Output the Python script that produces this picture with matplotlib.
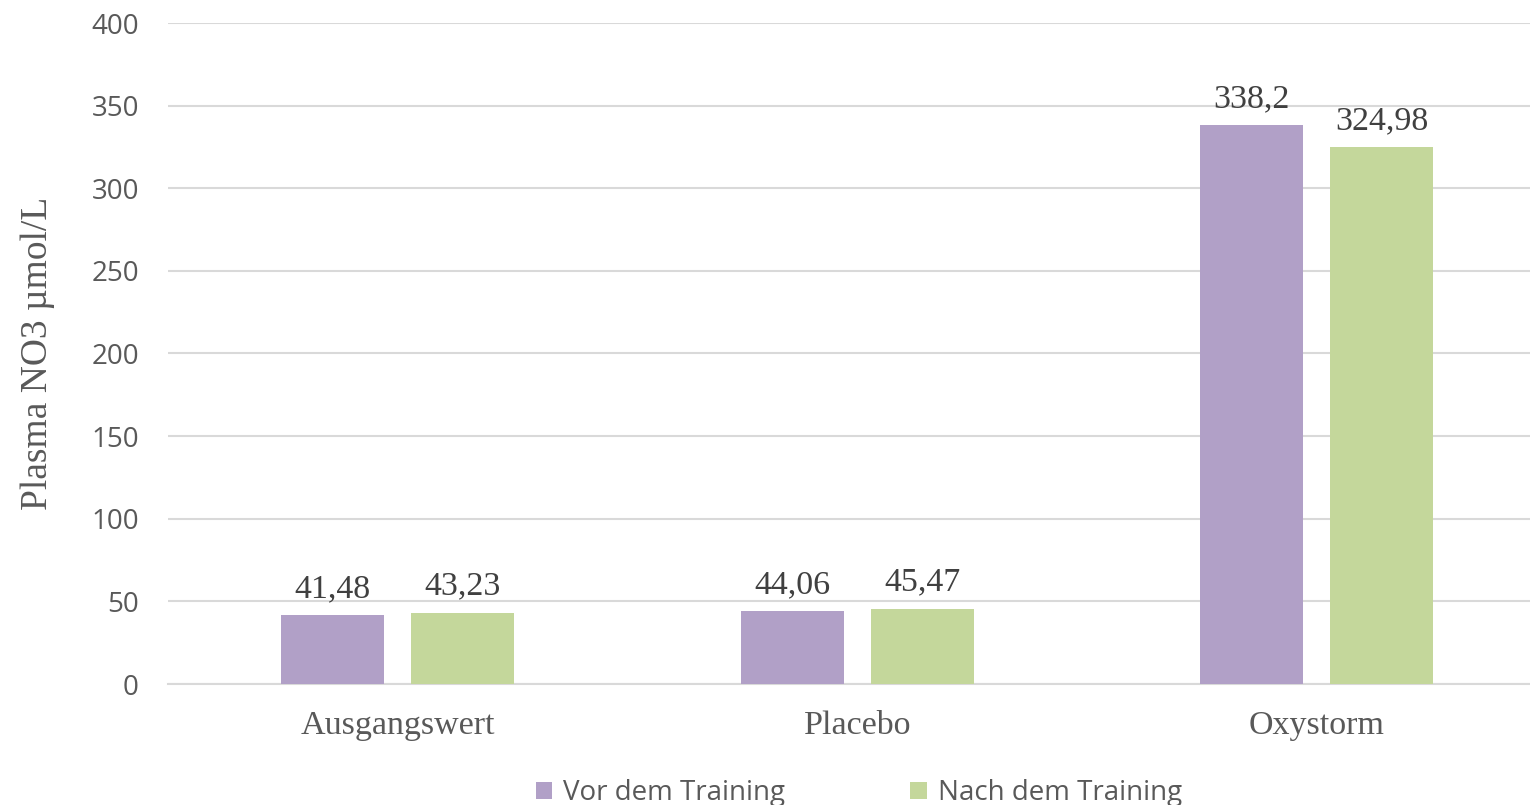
import matplotlib.pyplot as plt
import numpy as np

categories = ["Ausgangswert", "Placebo", "Oxystorm"]
vor = [41.48, 44.06, 338.2]
nach = [43.23, 45.47, 324.98]
vor_labels = ["41,48", "44,06", "338,2"]
nach_labels = ["43,23", "45,47", "324,98"]
series_names = ["Vor dem Training", "Nach dem Training"]

purple = "#B1A0C7"
green = "#C4D79B"
grey = "#595959"
serif = ["Liberation Serif", "DejaVu Serif"]
sans = ["Open Sans", "DejaVu Sans"]

fig = plt.figure(figsize=(15.3, 8.05), dpi=100)
ax = fig.add_axes([168 / 1530, 1 - 684 / 805, 1 - 168 / 1530, (684 - 23) / 805])

x = np.arange(len(categories))
w = 0.224
off = 0.1415
b1 = ax.bar(x - off, vor, w, color=purple, label=series_names[0], zorder=3)
b2 = ax.bar(x + off, nach, w, color=green, label=series_names[1], zorder=3)

# Datenbeschriftungen
for bars, labels in [(b1, vor_labels), (b2, nach_labels)]:
    for rect, lab in zip(bars, labels):
        ax.annotate(lab, (rect.get_x() + rect.get_width() / 2, rect.get_height()),
                    xytext=(0, 8), textcoords="offset points", ha="center", va="bottom",
                    fontsize=24.5, family=serif, color="#404040")

ax.set_xlim(-0.5, 2.4636)
ax.set_ylim(0, 400)
ax.set_yticks(range(0, 401, 50))
ax.yaxis.grid(True, color="#D9D9D9", linewidth=1.5, zorder=0)
ax.set_axisbelow(True)
for s in ["top", "right", "left"]:
    ax.spines[s].set_visible(False)
ax.spines["bottom"].set_color("#D9D9D9")
ax.spines["bottom"].set_linewidth(1.5)
ax.tick_params(axis="y", length=0, pad=21, labelsize=20, labelcolor=grey)
ax.tick_params(axis="x", length=0, pad=19, labelcolor=grey)
for t in ax.get_yticklabels():
    t.set_family(sans)
ax.set_xticks(x)
ax.set_xticklabels(categories, fontsize=24.5, family=serif)
ax.set_ylabel("Plasma NO3 µmol/L", fontsize=27, family=serif, color=grey, labelpad=26)

fig.legend(loc="lower center", bbox_to_anchor=(859 / 1530, -0.034), ncol=2, frameon=False,
           prop={"family": sans, "size": 20}, labelcolor=grey, handlelength=0.6,
           handleheight=0.6, handletextpad=0.4, columnspacing=4.5)

fig.savefig("out.png", dpi=100)
